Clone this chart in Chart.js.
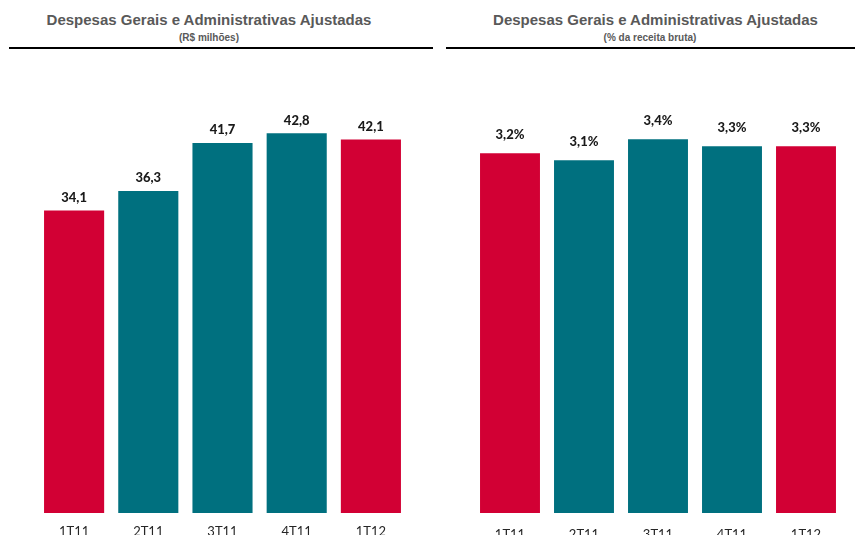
<!DOCTYPE html>
<html>
<head>
<meta charset="utf-8">
<script src="https://cdn.jsdelivr.net/npm/chart.js@4.4.0/dist/chart.umd.min.js"></script>
<style>
  html, body { margin: 0; padding: 0; background: #fff; width: 857px; height: 535px; overflow: hidden; }
  .t { position: absolute; font-family: "Liberation Sans", Arial, sans-serif; font-weight: bold; color: #595959; text-align: center; white-space: nowrap; }
  .title { font-size: 15px; top: 11px; }
  .sub { font-size: 10px; top: 32px; }
  .rule { position: absolute; top: 46.5px; height: 2.7px; background: #000; }
  .box { position: absolute; top: 0; height: 550px; }
</style>
</head>
<body>
<div class="t title" style="left:0;width:418px;">Despesas Gerais e Administrativas Ajustadas</div>
<div class="t sub" style="left:0;width:418px;">(R$ milhões)</div>
<div class="rule" style="left:9px;width:424px;"></div>

<div class="t title" style="left:440px;width:431px;">Despesas Gerais e Administrativas Ajustadas</div>
<div class="t sub" style="left:440px;width:420px;">(% da receita bruta)</div>
<div class="rule" style="left:446px;width:409px;"></div>

<div class="box" style="left:0;width:440px;"><canvas id="c1"></canvas></div>
<div class="box" style="left:440px;width:417px;"><canvas id="c2"></canvas></div>

<script>
const categories = ['1T11', '2T11', '3T11', '4T11', '1T12'];
const valuesBRL = [34.1, 36.3, 41.7, 42.8, 42.1];
const valuesPct = [3.2, 3.1, 3.4, 3.3, 3.3];
const barColors = ['#D20034', '#00707F', '#00707F', '#00707F', '#D20034'];

function labelPlugin(fmt, offset) {
  return {
    id: 'valLabels',
    afterDatasetsDraw(chart) {
      const ctx = chart.ctx;
      const meta = chart.getDatasetMeta(0);
      const data = chart.data.datasets[0].data;
      ctx.save();
      ctx.font = '900 13px Lato, "Open Sans", sans-serif';
      ctx.fillStyle = '#1a1a1a';
      ctx.textAlign = 'center';
      ctx.textBaseline = 'middle';
      meta.data.forEach((bar, i) => {
        ctx.fillText(fmt(data[i]), bar.x, bar.y - offset);
      });
      ctx.restore();
    }
  };
}

function makeChart(id, values, yMin, yMax, pad, tickPad, fmt, offset) {
  return new Chart(document.getElementById(id), {
    type: 'bar',
    data: {
      labels: categories,
      datasets: [{
        data: values,
        backgroundColor: barColors,
        borderWidth: 0,
        base: yMin,
        barPercentage: 0.81,
        categoryPercentage: 1.0
      }]
    },
    options: {
      responsive: true,
      maintainAspectRatio: false,
      animation: false,
      layout: { padding: pad },
      plugins: { legend: { display: false }, tooltip: { enabled: false }, title: { display: false } },
      scales: {
        x: {
          grid: { display: false, drawTicks: false },
          border: { display: false },
          afterFit: s => { s.height = 34; },
          ticks: { color: '#262626', padding: tickPad, maxRotation: 0, font: { family: 'Lato, "Open Sans", sans-serif', size: 13 } }
        },
        y: {
          display: false,
          min: yMin,
          max: yMax
        }
      }
    },
    plugins: [labelPlugin(fmt, offset)]
  });
}

makeChart('c1', valuesBRL, 0, 50,
  { left: 37, right: 32, top: 69.5, bottom: 3 }, 11,
  v => v.toFixed(1).replace('.', ','), 13);

makeChart('c2', valuesPct, -1.94, 4.39,
  { left: 33, right: 14, top: 70, bottom: 3 }, 14,
  v => v.toFixed(1).replace('.', ',') + '%', 18.5);
</script>
</body>
</html>
